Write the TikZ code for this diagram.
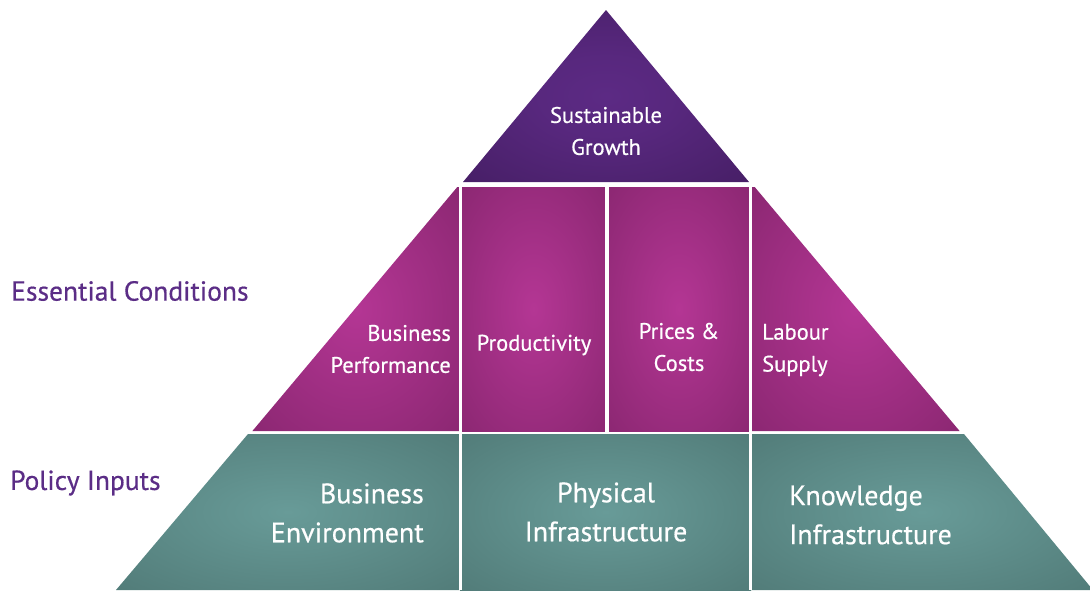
\documentclass[tikz,border=0pt]{standalone}
\usepackage{fontspec}
\setmainfont{PT Sans}
\newfontfamily\pyrfont[FakeBold=0.5]{PT Sans}
\definecolor{topout}{RGB}{62,26,90}
\definecolor{topin}{RGB}{92,42,132}
\definecolor{midout}{RGB}{125,34,102}
\definecolor{midin}{RGB}{180,54,148}
\definecolor{botout}{RGB}{74,113,110}
\definecolor{botin}{RGB}{104,155,152}
\definecolor{labelc}{RGB}{91,45,134}
\pgfdeclareradialshading{topsh}{\pgfpoint{0bp}{0bp}}{color(0bp)=(topin); color(12bp)=(topin!85!topout); color(48bp)=(topout); color(60bp)=(topout)}
\pgfdeclareradialshading{midsh}{\pgfpoint{0bp}{0bp}}{color(0bp)=(midin); color(10bp)=(midin!80!midout); color(48bp)=(midout); color(60bp)=(midout)}
\pgfdeclareradialshading{botsh}{\pgfpoint{0bp}{0bp}}{color(0bp)=(botin); color(10bp)=(botin!80!botout); color(48bp)=(botout); color(60bp)=(botout)}
\tikzset{
  toptier/.style={shading=topsh},
  midtier/.style={shading=midsh},
  bottier/.style={shading=botsh},
  divider/.style={draw=white,line width=3.2pt},
  midtxt/.style={text=white,font=\pyrfont\fontsize{22.5}{32}\selectfont,inner sep=0pt},
  bottxt/.style={text=white,font=\pyrfont\fontsize{28}{39}\selectfont,inner sep=0pt},
  sidetxt/.style={text=labelc,font=\pyrfont\fontsize{27.5}{32}\selectfont,inner sep=0pt,anchor=west}
}
\begin{document}
\begin{tikzpicture}[x=1pt,y=-1pt]
\useasboundingbox (0,0) rectangle (1090,590);
\begin{scope}
\clip (0,0) rectangle (1090,590);
% top
\shade[toptier] (606,10) -- (749,182) -- (463,182) -- cycle;
% middle tier
\shade[midtier] (457.3,187) -- (460,187) -- (460,431) -- (252.4,431) -- cycle;
\shade[midtier] (460,187) rectangle (607,431);
\shade[midtier] (607,187) rectangle (751,431);
\shade[midtier] (751,187) -- (754.7,187) -- (959.6,431) -- (751,431) -- cycle;
% bottom tier
\shade[bottier] (248,434) -- (460,434) -- (460,590) -- (116,590) -- cycle;
\shade[bottier] (460,434) rectangle (751,590);
\shade[bottier] (751,434) -- (964,434) -- (1093,590) -- (751,590) -- cycle;
% dividers
\coordinate (d1t) at (460.5,187);
\coordinate (d1b) at (460.5,590);
\coordinate (d2t) at (607,187);
\coordinate (d2b) at (607,432);
\coordinate (d3t) at (750.5,187);
\coordinate (d3b) at (750.5,590);
\draw[divider] (d1t) -- (d1b);
\draw[divider] (d2t) -- (d2b);
\draw[divider] (d3t) -- (d3b);
\end{scope}
% texts
\node[midtxt,align=center] (sg) at (606,131) {Sustainable\\Growth};
\node[midtxt,align=right,anchor=east] (bp) at (451,349) {Business\\Performance};
\node[midtxt,align=center] (pr) at (534,345) {Productivity};
\node[midtxt,align=center] (pc) at (679,347) {Prices \&\\Costs};
\node[midtxt,align=left,anchor=west] (ls) at (762,350) {Labour\\Supply};
\node[bottxt,align=right,anchor=east] (be) at (424,513) {Business\\Environment};
\node[bottxt,align=center] (pi) at (606,512) {Physical\\Infrastructure};
\node[bottxt,align=left,anchor=west] (ki) at (789,515) {Knowledge\\Infrastructure};
\node[sidetxt] (ec) at (11,291) {Essential Conditions};
\node[sidetxt] (pin) at (10,483) {Policy Inputs};
\end{tikzpicture}
\end{document}
